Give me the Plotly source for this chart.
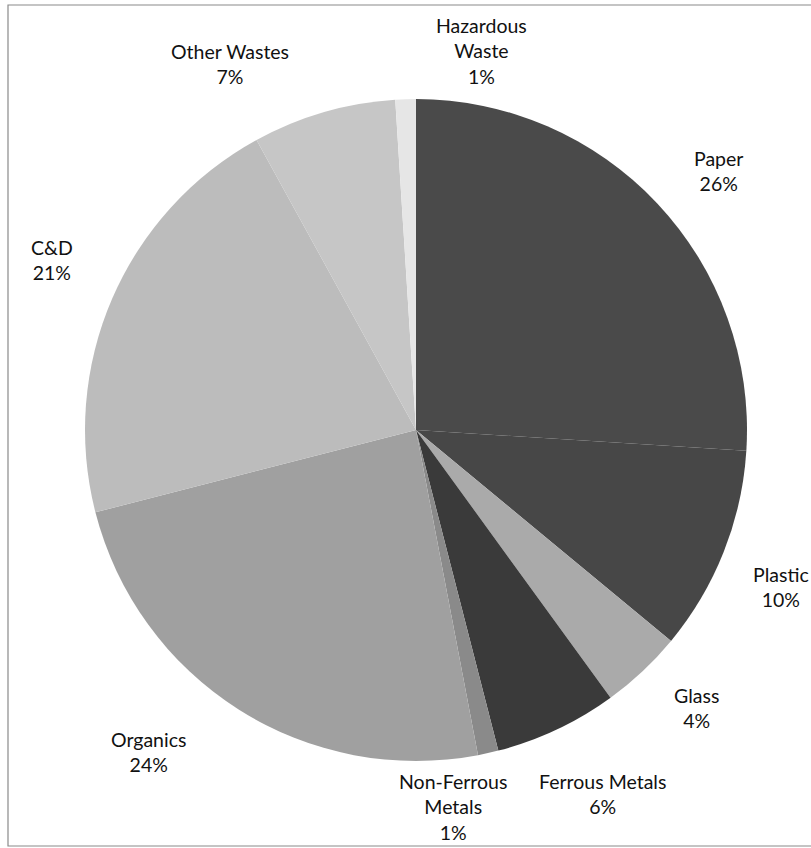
import plotly.graph_objects as go

# Waste composition by material (percent of total)
categories = ["Paper", "Plastic", "Glass", "Ferrous Metals", "Non-Ferrous Metals",
              "Organics", "C&D", "Other Wastes", "Hazardous Waste"]
percents = [26, 10, 4, 6, 1, 24, 21, 7, 1]

# How each category name is broken across lines in its label
label_lines = {
    "Hazardous Waste": ["Hazardous", "Waste"],
    "Non-Ferrous Metals": ["Non-Ferrous", "Metals"],
}

# Greyscale fills, one per slice
fills = ["#4a4a4a", "#474747", "#aaaaaa", "#3a3a3a", "#8a8a8a",
         "#a0a0a0", "#bcbcbc", "#c6c6c6", "#e6e6e6"]

# Label block centres in pixels (x, y from top)
label_pos = {
    "Paper": (718, 171),
    "Plastic": (781, 587),
    "Glass": (696, 708),
    "Ferrous Metals": (602, 794),
    "Non-Ferrous Metals": (453, 807),
    "Organics": (148, 752),
    "C&D": (52, 260),
    "Other Wastes": (230, 64),
    "Hazardous Waste": (482, 51),
}

W, H = 811, 848
CX, CY, R = 416, 430, 331

fig = go.Figure(go.Pie(
    labels=categories,
    values=percents,
    sort=False,
    direction="clockwise",
    rotation=0,
    textinfo="none",
    hoverinfo="label+percent",
    marker=dict(colors=fills, line=dict(width=0)),
    domain=dict(x=[(CX - R) / W, (CX + R) / W],
                y=[1 - (CY + R) / H, 1 - (CY - R) / H]),
    showlegend=False,
))

annotations = []
for name, pct in zip(categories, percents):
    lines = label_lines.get(name, [name]) + [f"{pct}%"]
    px, py = label_pos[name]
    annotations.append(dict(
        text="<br>".join(lines),
        x=px / W, y=1 - py / H, xref="paper", yref="paper",
        xanchor="center", yanchor="middle", showarrow=False,
        font=dict(family="Lato", size=19.5, color="#111111"),
    ))

fig.update_layout(
    width=W, height=H,
    margin=dict(l=0, r=0, t=0, b=0),
    paper_bgcolor="white",
    plot_bgcolor="white",
    annotations=annotations,
    shapes=[dict(type="rect", xref="paper", yref="paper",
                 x0=8 / W, x1=830 / W, y0=1 - 846 / H, y1=1 - 5 / H,
                 line=dict(color="#8a8a8a", width=1.2))],
)

fig.write_html("out.html")
